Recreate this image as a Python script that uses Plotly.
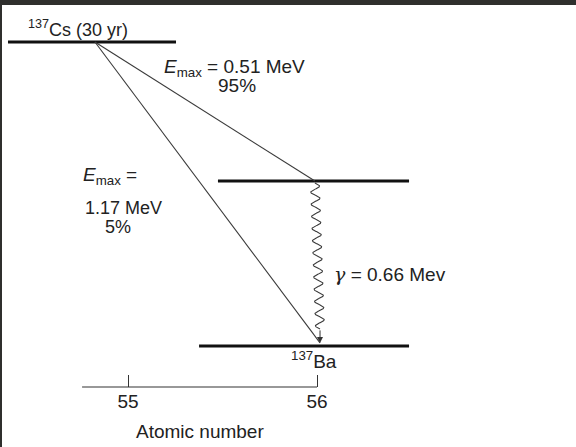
import numpy as np
import plotly.graph_objects as go

# ---- data ----
level_names = ["137Cs", "137Ba*", "137Ba"]
level_Z = [55, 56, 56]                      # atomic number of each level
level_height = [1.17, 0.635, 0.0]          # drawing height of each level (MeV-like scale)
level_span = [(54.365, 55.254), (55.476, 56.487), (55.376, 56.487)]

beta_labels = ["E_max = 0.51 MeV, 95%", "E_max = 1.17 MeV, 5%"]
beta_start = (54.825, 1.17)
beta_ends = [(55.989, 0.635), (56.016, 0.012)]
gamma_start = (55.989, 0.635)
gamma_end = (56.016, 0.012)

tick_vals = [55, 56]
tick_text = ["55", "56"]
axis_title = "Atomic number"
axis_start = 54.757

# ---- layout helpers (pixel geometry of the figure) ----
W, H = 576, 447
Z_PX0, PX_PER_Z = 128, 189.0
Y_PX0, PX_PER_U = 346, 259.8
AXIS_PX = 387
xr = [55 - Z_PX0 / PX_PER_Z, 55 + (W - Z_PX0) / PX_PER_Z]
yr = [-(AXIS_PX - Y_PX0) / PX_PER_U, Y_PX0 / PX_PER_U]

def px(xp):
    return xp / W

def py(yp):
    return 1 - yp / H

FONT = "Liberation Sans, Arial, sans-serif"
TXT = "#222222"
FS = 19

fig = go.Figure()

# levels
for (a, b), h in zip(level_span, level_height):
    fig.add_trace(go.Scatter(x=[a, b], y=[h, h], mode="lines",
                             line=dict(color="#111111", width=3),
                             hoverinfo="skip", showlegend=False))

# beta transitions
for (ex, ey) in beta_ends:
    fig.add_trace(go.Scatter(x=[beta_start[0], ex], y=[beta_start[1], ey], mode="lines",
                             line=dict(color="#3a3a3a", width=1.1),
                             hoverinfo="skip", showlegend=False))

# gamma wavy line
n = 800
t = np.linspace(0, 1, n)
y_top = gamma_start[1] - 2 / PX_PER_U
y_bot = gamma_end[1] + 14 / PX_PER_U
wy = y_top + (y_bot - y_top) * t
cx = gamma_start[0] + (gamma_end[0] - gamma_start[0]) * t
wx = cx + (4.5 / PX_PER_Z) * np.sin(2 * np.pi * 12 * t)
fig.add_trace(go.Scatter(x=wx, y=wy, mode="lines",
                         line=dict(color="#3a3a3a", width=1.1),
                         hoverinfo="skip", showlegend=False))
fig.add_annotation(x=gamma_end[0], y=gamma_end[1], ax=gamma_end[0], ay=y_bot,
                   xref="x", yref="y", axref="x", ayref="y", text="",
                   showarrow=True, arrowhead=2, arrowsize=1.2, arrowwidth=1,
                   arrowcolor="#333333")

# atomic number axis baseline
fig.add_shape(type="line", xref="x", yref="paper", x0=axis_start, x1=tick_vals[-1],
              y0=py(AXIS_PX), y1=py(AXIS_PX), line=dict(color="#333333", width=1.2))

# texts
def ann(text, x, y, xanchor="center", size=FS):
    fig.add_annotation(text=text, x=px(x), y=py(y), xref="paper", yref="paper",
                       xanchor=xanchor, yanchor="middle", showarrow=False,
                       font=dict(family=FONT, size=size, color=TXT))

ann("<sup>137</sup>Cs (30 yr)", 78, 29, size=18)
ann("<i>E</i><sub>max</sub> = 0.51 MeV", 162, 68, xanchor="left")
ann("95%", 237, 85)
ann("<i>E</i><sub>max</sub> =", 81, 176, xanchor="left")
ann("1.17 MeV", 83, 208, xanchor="left", size=18)
ann("5%", 118, 227, size=18)
ann('<span style="font-family:DejaVu Serif"><i>γ</i></span> = 0.66 Mev', 332, 274, xanchor="left")
ann("<sup>137</sup>Ba", 314, 360)
ann(axis_title, 200, 431)

# frame strips of the screenshot
fig.add_shape(type="rect", xref="paper", yref="paper", x0=0, x1=1, y0=py(5), y1=1,
              line=dict(width=0), fillcolor="#2f2f2d", layer="above")
fig.add_shape(type="rect", xref="paper", yref="paper", x0=0, x1=px(2), y0=0, y1=1,
              line=dict(width=0), fillcolor="#2f2f2d", layer="above")

fig.update_layout(
    width=W, height=H, autosize=False,
    margin=dict(l=0, r=0, t=0, b=0, autoexpand=False),
    paper_bgcolor="white", plot_bgcolor="rgba(0,0,0,0)",
    showlegend=False,
    xaxis=dict(range=xr, domain=[0, 1], fixedrange=True, automargin=False,
               tickvals=tick_vals, ticktext=tick_text,
               ticks="inside", ticklen=12, tickwidth=1.2, tickcolor="#333333",
               showline=False, showgrid=False, zeroline=False,
               ticklabelstandoff=1,
               tickfont=dict(family=FONT, size=FS, color=TXT)),
    yaxis=dict(range=yr, visible=False, domain=[py(AXIS_PX), 1], fixedrange=True,
               automargin=False),
)

post = (
    "document.documentElement.style.overflow='hidden';"
    "document.body.style.overflow='hidden';"
    "document.body.style.margin='0';document.body.style.padding='0';"
)
fig.write_html("out.html", config={"displayModeBar": False}, post_script=post)
